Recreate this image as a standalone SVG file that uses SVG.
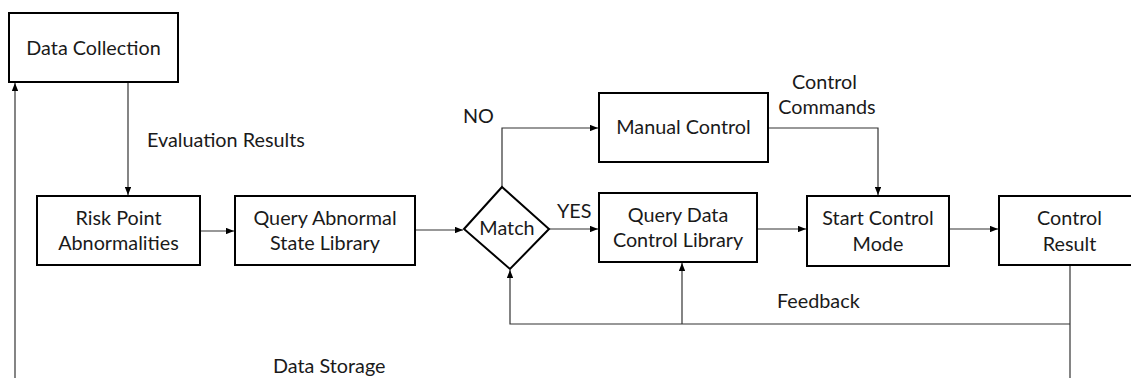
<svg xmlns="http://www.w3.org/2000/svg" width="1131" height="378" viewBox="0 0 1131 378">
<style>
.box{fill:#fff;stroke:#000;stroke-width:2}
.ln{fill:none;stroke:#333;stroke-width:1.2}
.arr{marker-end:url(#ah)}
text{font-family:Lato,"Liberation Sans",sans-serif;font-size:19.8px;fill:#1a1a1a}
.c{text-anchor:middle}
</style>
<defs>
<marker id="ah" viewBox="0 0 10 8" refX="10" refY="4" markerWidth="8" markerHeight="6.4" markerUnits="userSpaceOnUse" orient="auto">
<path d="M0,0 L10,4 L0,8 Z" fill="#000"/>
</marker>
</defs>
<rect width="1131" height="378" fill="#fff"/>
<g id="connectors">
<line class="ln arr" x1="15" y1="378" x2="15" y2="83"/>
<line class="ln arr" x1="128" y1="82" x2="128" y2="195"/>
<line class="ln arr" x1="200" y1="231" x2="234" y2="231"/>
<line class="ln arr" x1="415" y1="230" x2="463" y2="230"/>
<polyline class="ln arr" points="502,187 502,128 598,128"/>
<line class="ln arr" x1="549" y1="229" x2="598" y2="229"/>
<polyline class="ln arr" points="768,128 878,128 878,195"/>
<line class="ln arr" x1="757" y1="229" x2="806" y2="229"/>
<line class="ln arr" x1="949" y1="229" x2="998" y2="229"/>
<polyline class="ln" points="1070,265 1070,378"/>
<polyline class="ln arr" points="1070,324 510,324 510,270"/>
<line class="ln arr" x1="682" y1="324" x2="682" y2="263"/>
</g>
<g id="data-collection">
<rect class="box" x="9" y="13" width="169" height="69"/>
<text class="c" x="93.5" y="55">Data Collection</text>
</g>
<g id="risk-point">
<rect class="box" x="37" y="196" width="163" height="69"/>
<text class="c" x="118.5" y="225">Risk Point</text>
<text class="c" x="118.5" y="250">Abnormalities</text>
</g>
<g id="query-abnormal">
<rect class="box" x="235" y="196" width="180" height="69"/>
<text class="c" x="325" y="225">Query Abnormal</text>
<text class="c" x="325" y="250">State Library</text>
</g>
<g id="match">
<polygon class="box" points="502,187 549,229 510,269 464,229"/>
<text class="c" x="507" y="235">Match</text>
</g>
<g id="manual-control">
<rect class="box" x="599" y="93" width="169" height="69"/>
<text class="c" x="683.5" y="134">Manual Control</text>
</g>
<g id="query-data">
<rect class="box" x="599" y="193" width="158" height="69"/>
<text class="c" x="678" y="222">Query Data</text>
<text class="c" x="678" y="247">Control Library</text>
</g>
<g id="start-control">
<rect class="box" x="807" y="196" width="142" height="70"/>
<text class="c" x="878" y="225">Start Control</text>
<text class="c" x="878" y="251">Mode</text>
</g>
<g id="control-result">
<rect class="box" x="999" y="196" width="140" height="69"/>
<text class="c" x="1069.5" y="225">Control</text>
<text class="c" x="1069.5" y="251">Result</text>
</g>
<g id="labels">
<text x="147" y="147">Evaluation Results</text>
<text x="463" y="123">NO</text>
<text x="557" y="218">YES</text>
<text class="c" x="824.5" y="89">Control</text>
<text class="c" x="827" y="114">Commands</text>
<text x="777" y="308">Feedback</text>
<text x="273" y="373">Data Storage</text>
</g>
</svg>
